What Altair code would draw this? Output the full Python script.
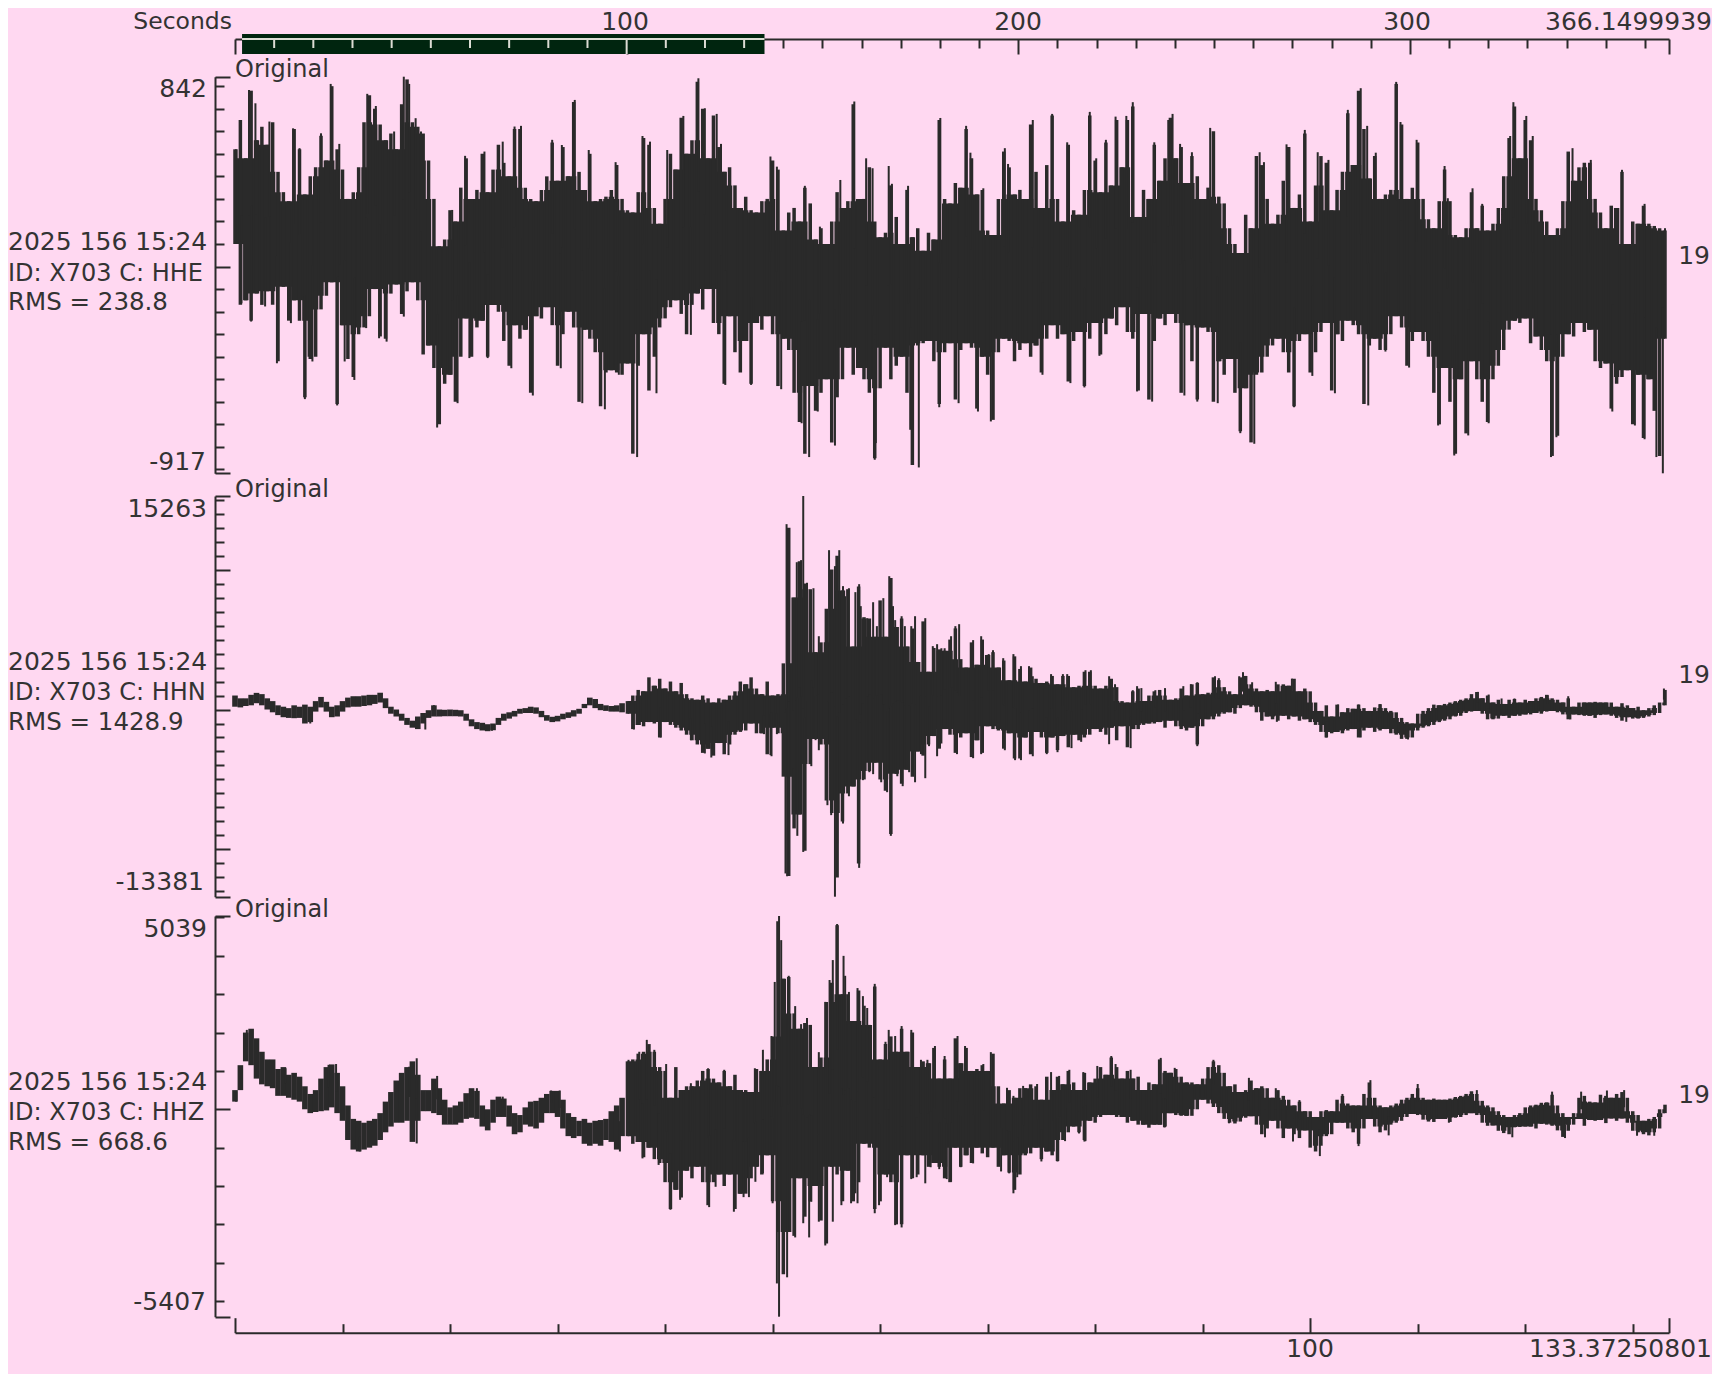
import altair as alt
import numpy as np
import pandas as pd

# ---------- waveform columns: {seconds: counts} ----------
p1_hi = {0:520,.5:650,1:480,1.5:780,2:560,2.5:620,3:540,3.5:640,4:420,4.5:330,5:290,5.5:610,6:520,6.5:320,7:400,7.5:440,8:580,8.5:470,9:800,9.5:520,10:430,10.5:300,11:330,11.5:440,12:640,12.5:760,13:700,13.5:630,14:560,14.5:590,15:520,15.5:720,16:830,16.5:640,17:620,17.5:590,18:470,18.5:300,19:90,19.5:120,20:250,20.5:200,21:350,21.5:480,22:300,22.5:340,23:500,23.5:330,24:430,24.5:540,25:460,25.5:400,26:610,26.5:610,27:350,27.5:300,28:290,28.5:340,29:400,29.5:550,30:380,30.5:530,31:400,31.5:730,32:420,32.5:340,33:500,33.5:290,34:300,34.5:310,35:340,35.5:450,36:300,36.5:250,37:240,37.5:330,38:570,38.5:540,39:260,39.5:190,40:300,40.5:500,41:430,41.5:660,42:500,42.5:560,43:820,43.5:700,44:480,44.5:670,45:530,45.5:420,46:440,46.5:360,47:260,47.5:310,48:250,48.5:240,49:290,49.5:300,50:470,50.5:430,51:160,51.5:240,52:260,52.5:200,53:350,53.5:280,54:120,54.5:170,55:100,55.5:200,56:330,56.5:260,57:290,57.5:720,58:300,
         58.5:300,59:440,59.5:200,60:130,60.5:150,61:360,61.5:220,62:100,62.5:340,63:130,63.5:170,64:70,64.5:150,65:120,65.5:650,66:300,66.5:280,67:370,67.5:350,68:610,68.5:480,69:320,69.5:340,70:160,70.5:140,71:300,71.5:510,72:440,72.5:320,73:340,73.5:300,74:630,74.5:420,75:260,75.5:450,76:670,76.5:300,77:200,77.5:540,78:250,78.5:230,79:340,79.5:670,80:470,80.5:330,81:550,81.5:360,82:650,82.5:440,83:650,83.5:710,84:220,84.5:340,85:300,85.5:540,86:380,86.5:480,87:660,87.5:480,88:530,88.5:370,89:490,89.5:400,90:300,90.5:350,91:600,91.5:310,92:280,92.5:170,93:100,93.5:60,94:230,94.5:170,95:490,95.5:450,96:300,96.5:190,97:230,97.5:380,98:530,98.5:260,99:320,99.5:590,100:200,100.5:360,101:490,101.5:460,102:250,102.5:340,103:420,103.5:680,104:450,104.5:780,105:610,105.5:390,106:490,106.5:300,107:320,107.5:340,108:810,108.5:630,109:300,109.5:350,110:550,110.5:300,111:210,111.5:170,112:290,112.5:430,113:290,113.5:140,114:130,114.5:170,115:330,115.5:170,116:270,116.5:160,117:190,117.5:260,118:400,118.5:570,119:710,119.5:480,120:650,120.5:560,121:300,121.5:250,122:200,122.5:140,123:170,123.5:290,124:510,124.5:380,125:440,125.5:460,126:460,126.5:300,127:240,127.5:170,128:270,128.5:260,129:420,129.5:100,130:200,130.5:190,131:270,131.5:190,132:180,132.5:170,133:160}
p1_lo = {0:100,.5:-170,1:-150,1.5:-240,2:-120,2.5:-170,3:-110,3.5:-170,4:-420,4.5:-90,5:-240,5.5:-150,6:-240,6.5:-580,7:-410,7.5:-400,8:-190,8.5:-130,9:-70,9.5:-610,10:-260,10.5:-410,11:-490,11.5:-300,12:-270,12.5:-220,13:-100,13.5:-310,14:-320,14.5:-120,15:-80,15.5:-210,16:-110,16.5:-70,17:-150,17.5:-390,18:-350,18.5:-450,19:-700,19.5:-520,20:-480,20.5:-600,21:-400,21.5:-230,22:-400,22.5:-270,23:-240,23.5:-400,24:-170,24.5:-200,25:-330,25.5:-440,26:-260,26.5:-320,27:-280,27.5:-560,28:-220,28.5:-230,29:-180,29.5:-260,30:-440,30.5:-300,31:-200,31.5:-270,32:-600,32.5:-280,33:-320,33.5:-380,34:-620,34.5:-470,35:-460,35.5:-470,36:-480,36.5:-430,37:-830,37.5:-440,38:-300,38.5:-550,39:-400,39.5:-270,40:-230,40.5:-180,41:-150,41.5:-210,42:-300,42.5:-170,43:-120,43.5:-190,44:-100,44.5:-250,45:-300,45.5:-520,46:-220,46.5:-380,47:-470,47.5:-330,48:-520,48.5:-250,49:-280,49.5:-220,50:-300,50.5:-530,51:-320,51.5:-370,52:-560,52.5:-690,53:-830,53.5:-530,54:-640,54.5:-560,55:-500,55.5:-780,56:-580,56.5:-500,57:-360,57.5:-480,58:-450,
         58.5:-500,59:-560,59.5:-850,60:-540,60.5:-360,61:-500,61.5:-440,62:-400,62.5:-560,63:-880,63.5:-350,64:-340,64.5:-330,65:-420,65.5:-610,66:-380,66.5:-340,67:-590,67.5:-370,68:-340,68.5:-360,69:-630,69.5:-400,70:-480,70.5:-680,71:-380,71.5:-320,72:-330,72.5:-420,73:-370,73.5:-340,74:-400,74.5:-350,75:-470,75.5:-320,76:-260,76.5:-320,77:-300,77.5:-510,78:-330,78.5:-290,79:-530,79.5:-320,80:-250,80.5:-390,81:-300,81.5:-230,82:-260,82.5:-180,83:-290,83.5:-320,84:-550,84.5:-210,85:-590,85.5:-330,86:-230,86.5:-260,87:-210,87.5:-250,88:-560,88.5:-260,89:-420,89.5:-590,90:-270,90.5:-290,91:-600,91.5:-420,92:-480,92.5:-410,93:-560,93.5:-730,94:-540,94.5:-780,95:-480,95.5:-470,96:-400,96.5:-350,97:-320,97.5:-380,98:-470,98.5:-620,99:-330,99.5:-300,100:-470,100.5:-380,101:-290,101.5:-250,102:-550,102.5:-300,103:-330,103.5:-240,104:-260,104.5:-300,105:-610,105.5:-350,106:-320,106.5:-370,107:-370,107.5:-300,108:-220,108.5:-270,109:-440,109.5:-330,110:-290,110.5:-330,111:-400,111.5:-560,112:-700,112.5:-450,113:-600,113.5:-830,114:-500,114.5:-740,115:-420,115.5:-500,116:-600,116.5:-690,117:-500,117.5:-440,118:-370,118.5:-280,119:-240,119.5:-250,120:-230,120.5:-340,121:-310,121.5:-370,122:-420,122.5:-840,123:-750,123.5:-400,124:-300,124.5:-310,125:-250,125.5:-290,126:-280,126.5:-420,127:-450,127.5:-430,128:-630,128.5:-520,129:-490,129.5:-460,130:-700,130.5:-480,131:-760,131.5:-500,132:-640,132.5:-840,133:-320}
p2_hi = {36.5:600,37:1000,37.5:1400,38:1300,38.5:2300,39:1700,39.5:2200,40:1500,40.5:2000,41:1300,41.5:1900,42:1100,42.5:800,43:700,43.5:1000,44:800,44.5:500,45:800,45.5:700,46:1000,46.5:1300,47:2000,47.5:1800,48:2300,48.5:1500,49:1100,49.5:2000,50:1000,50.5:1100,
         51:3300,51.5:13000,52:8000,52.5:10600,53:9000,53.5:8600,54:4100,54.5:4800,55:7200,55.5:10000,56:11000,56.5:8500,57:8600,57.5:4500,58:8800,58.5:6600,59:6500,59.5:5200,60:7800,60.5:5200,61:9400,61.5:5900,62:6500,62.5:4500,63:5800,63.5:3400,64:6300,64.5:2700,65:4400,65.5:4300,66:4200,66.5:5000,67:5800,67.5:3600,68:3000,68.5:4800,69:3200,69.5:5000,70:3900,70.5:4100,71:3000,71.5:3500,72:2100,72.5:3800,73:2900,73.5:2000,74:3000,74.5:2200,75:1900,75.5:2000,76:2400,76.5:1800,77:2400,77.5:2400,78:1600,78.5:1700,79:2700,79.5:2700,80:1700,80.5:1500,81:1700,81.5:2200,82:1600,82.5:600,83:500,83.5:1300,84:1500,84.5:600,85:1000,85.5:1300,86:1400,86.5:1000,87:700,87.5:800,88:1500,88.5:1000,89:1800,89.5:1900,90:1100,90.5:1200,91:2300,91.5:2100,92:1600,92.5:1300,93:1100,93.5:2300,94:2400,94.5:1800,95:1500,95.5:1300,96:1400,96.5:1300,97:1800,
         97.5:1800,98:1700,98.5:2200,99:1300,99.5:1500,100:1300,100.5:500,101:-100,101.5:300,102:-500,102.5:350,103:-200,103.5:100,104:50,104.5:350,105:100,105.5:-100,106:150,106.5:380,107:100,107.5:-100,108:-200,108.5:-600,109:-900,109.5:-1000,110:-300,110.5:-100,111:100,111.5:350,112:300,112.5:400,113:500,113.5:600,114:700,114.5:800,115:1100,115.5:1250,116:800,116.5:1000,117:500,117.5:700,118:400,118.5:700,119:750,119.5:500,120:700,120.5:600,121:800,121.5:900,122:1050,122.5:800,123:700,123.5:500,124:800,124.5:200,125:500,125.5:500,126:500,126.5:550,127:500,127.5:500,128:500,128.5:200,129:450,129.5:300,130:100,130.5:200,131:-50,131.5:100,132:300,132.5:500,133:1400}
p2_lo = {36.5:-300,37:-1400,37.5:-1100,38:-1200,38.5:-900,39:-1000,39.5:-2000,40:-900,40.5:-1100,41:-1300,41.5:-1500,42:-1800,42.5:-2200,43:-2500,43.5:-3100,44:-2800,44.5:-3300,45:-2400,45.5:-3200,46:-2500,46.5:-1800,47:-1600,47.5:-1500,48:-1000,48.5:-1700,49:-1700,49.5:-3200,50:-1300,50.5:-1700,
         51:-4800,51.5:-11900,52:-8500,52.5:-7500,53:-10100,53.5:-3900,54:-2100,54.5:-2500,55:-6500,55.5:-7400,56:-12000,56.5:-8000,57:-6000,57.5:-5500,58:-11000,58.5:-5000,59:-4400,59.5:-3800,60:-5000,60.5:-5800,61:-8900,61.5:-4600,62:-5300,62.5:-4300,63:-4800,63.5:-3000,64:-3300,64.5:-2500,65:-1900,65.5:-2800,66:-1400,66.5:-1800,67:-3100,67.5:-2000,68:-1700,68.5:-3400,69:-2200,69.5:-3100,70:-1200,70.5:-1400,71:-1500,71.5:-2800,72:-1700,72.5:-3500,73:-3500,73.5:-2000,74:-3200,74.5:-1600,75:-2000,75.5:-3100,76:-2000,76.5:-2900,77:-1900,77.5:-2700,78:-1800,78.5:-2200,79:-2000,79.5:-1800,80:-1400,80.5:-1600,81:-1800,81.5:-1300,82:-2200,82.5:-1200,83:-2700,83.5:-1400,84:-1400,84.5:-1100,85:-1000,85.5:-1000,86:-900,86.5:-1300,87:-800,87.5:-1200,88:-1400,88.5:-1500,89:-1300,89.5:-2500,90:-1200,90.5:-700,91:-700,91.5:-500,92:-300,92.5:-200,93:-300,93.5:100,94:300,94.5:200,95:-200,95.5:-800,96:-500,96.5:-700,97:-800,
         97.5:-450,98:-700,98.5:-500,99:-800,99.5:-700,100:-900,100.5:-1100,101:-1600,101.5:-2000,102:-1700,102.5:-1600,103:-1700,103.5:-1500,104:-1400,104.5:-2000,105:-1500,105.5:-1300,106:-1600,106.5:-1500,107:-1400,107.5:-1700,108:-1800,108.5:-2100,109:-2100,109.5:-2000,110:-1500,110.5:-1300,111:-1200,111.5:-1100,112:-900,112.5:-800,113:-700,113.5:-500,114:-450,114.5:-250,115:-150,115.5:-100,116:-300,116.5:-700,117:-700,117.5:-650,118:-450,118.5:-600,119:-450,119.5:-450,120:-350,120.5:-350,121:-250,121.5:-300,122:-150,122.5:-100,123:-200,123.5:-350,124:-700,124.5:-350,125:-400,125.5:-450,126:-450,126.5:-600,127:-400,127.5:-350,128:-450,128.5:-600,129:-800,129.5:-550,130:-650,130.5:-650,131:-600,131.5:-500,132:-400,132.5:-250,133:300}
p3_hi = {36.5:1250,37:1300,37.5:1450,38:1500,38.5:1700,39:1500,39.5:1100,40:1000,40.5:300,41:1100,41.5:500,42:600,42.5:600,43:750,43.5:1000,44:1050,44.5:800,45:700,45.5:1000,46:600,46.5:900,47:500,
         47.5:500,48:450,48.5:1050,49:1000,49.5:1300,50:1900,50.5:4900,51:3400,51.5:3450,52:2500,52.5:2100,53:2250,53.5:2200,54:1100,54.5:1350,55:2800,55.5:3300,56:4800,56.5:3000,57:3000,57.5:2300,58:3100,58.5:2700,59:2200,59.5:3200,60:1300,60.5:1700,61:1900,61.5:1500,62:2100,62.5:1500,63:2000,63.5:1100,64:1250,64.5:1200,65:1600,65.5:800,66:1300,66.5:800,67:1850,67.5:1200,68:1600,68.5:1000,69:1050,69.5:1150,70:1000,70.5:1450,71:600,71.5:150,72:500,72.5:300,73:550,73.5:550,74:650,74.5:600,75:250,75.5:850,76:500,76.5:850,77:650,77.5:1000,78:700,78.5:500,79:950,79.5:700,80:800,80.5:1100,81:900,81.5:1350,82:1100,82.5:800,83:1000,83.5:800,84:850,84.5:500,85:700,85.5:650,86:1300,86.5:1000,87:950,87.5:1050,88:850,88.5:700,89:700,89.5:650,90:800,90.5:1100,91:1250,91.5:1150,92:950,92.5:600,93:650,93.5:450,94:500,94.5:750,95:550,
         95.5:600,96:550,96.5:300,97:500,97.5:350,98:250,98.5:100,99:200,99.5:-50,100:-50,100.5:-200,101:-50,101.5:-20,102:-50,102.5:250,103:350,103.5:150,104:100,104.5:100,105:400,105.5:700,106:300,106.5:100,107:50,107.5:100,108:150,108.5:250,109:300,109.5:400,110:550,110.5:300,111:250,111.5:280,112:250,112.5:250,113:280,113.5:320,114:350,114.5:400,115:470,115.5:400,116:220,116.5:100,117:50,117.5:-50,118:-150,118.5:-200,119:-150,119.5:-100,120:50,120.5:100,121:120,121.5:170,122:180,122.5:380,123:100,123.5:-100,124:-200,124.5:-100,125:300,125.5:350,126:200,126.5:180,127:380,127.5:350,128:300,128.5:400,129:450,129.5:300,130:-50,130.5:-150,131:-300,131.5:-250,132:-200,132.5:0,133:120}
p3_lo = {36.5:-700,37:-900,37.5:-850,38:-1250,38.5:-1000,39:-1300,39.5:-1400,40:-1900,40.5:-2600,41:-2100,41.5:-2300,42:-1600,42.5:-1800,43:-1500,43.5:-1900,44:-2500,44.5:-1900,45:-1700,45.5:-2000,46:-1700,46.5:-2600,47:-2200,
         47.5:-2200,48:-1800,48.5:-1500,49:-1700,49.5:-1200,50:-2400,50.5:-3200,51:-4300,51.5:-3200,52:-3300,52.5:-1800,53:-2800,53.5:-2400,54:-2000,54.5:-2900,55:-3500,55.5:-1500,56:-1700,56.5:-2400,57:-1600,57.5:-2400,58:-1900,58.5:-900,59:-1000,59.5:-2600,60:-2400,60.5:-1700,61:-1900,61.5:-3000,62:-3000,62.5:-1200,63:-1800,63.5:-1700,64:-1200,64.5:-1500,65:-1400,65.5:-1500,66:-1800,66.5:-1900,67:-1000,67.5:-1500,68:-1200,68.5:-1400,69:-1000,69.5:-1150,70:-1250,70.5:-1000,71:-1500,71.5:-1200,72:-1650,72.5:-2100,73:-1700,73.5:-1200,74:-1150,74.5:-1000,75:-1300,75.5:-1100,76:-1200,76.5:-1350,77:-800,77.5:-600,78:-450,78.5:-600,79:-800,79.5:-300,80:-350,80.5:-200,81:-150,81.5:-150,82:-200,82.5:-200,83:-350,83.5:-300,84:-400,84.5:-400,85:-480,85.5:-400,86:-400,86.5:-450,87:-100,87.5:-150,88:-170,88.5:-170,89:-170,89.5:0,90:250,90.5:150,91:60,91.5:-100,92:-250,92.5:-350,93:-370,93.5:-320,94:-220,94.5:-180,95:-400,
         95.5:-650,96:-500,96.5:-300,97:-500,97.5:-750,98:-500,98.5:-650,99:-750,99.5:-550,100:-1000,100.5:-1100,101:-950,101.5:-700,102:-650,102.5:-350,103:-350,103.5:-500,104:-600,104.5:-900,105:-500,105.5:-250,106:-450,106.5:-600,107:-550,107.5:-400,108:-350,108.5:-300,109:-200,109.5:-120,110:-150,110.5:-270,111:-320,111.5:-330,112:-250,112.5:-250,113:-330,113.5:-220,114:-200,114.5:-150,115:-100,115.5:-150,116:-350,116.5:-430,117:-420,117.5:-560,118:-620,118.5:-650,119:-470,119.5:-460,120:-450,120.5:-450,121:-500,121.5:-380,122:-400,122.5:-430,123:-550,123.5:-720,124:-560,124.5:-400,125:-250,125.5:-430,126:-280,126.5:-300,127:-280,127.5:-360,128:-240,128.5:-300,129:-240,129.5:-350,130:-560,130.5:-600,131:-650,131.5:-680,132:-600,132.5:-500,133:-100}

# quiet first part of panels 2 and 3: a thick wandering band
p2_q_hi = {0:1000,.5:800,1:800,1.5:1050,2:1190,2.5:1100,3:800,3.5:600,4:300,4.5:200,5:100,5.5:300,6:200,6.5:350,7:200,7.5:600,8:900,8.5:550,9:200,9.5:300,10:600,10.5:850,11:950,11.5:950,12:1000,12.5:1050,13:1050,13.5:1200,14:800,14.5:200,15:0,15.5:-300,16:-600,16.5:-800,17:-500,17.5:-250,18:-50,18.5:300,19:0,19.5:-20,20:0,20.5:-20,21:-50,21.5:-300,22:-700,22.5:-900,23:-950,23.5:-1050,24:-1000,24.5:-600,25:-300,25.5:-200,26:-100,26.5:50,27:100,27.5:200,28:150,28.5:-100,29:-400,29.5:-520,30:-450,30.5:-300,31:-200,31.5:-50,32:50,32.5:400,33:850,33.5:750,34:400,34.5:300,35:250,35.5:300,36:450}
p2_q_lo = {0:200,.5:150,1:250,1.5:300,2:450,2.5:300,3:0,3.5:-200,4:-400,4.5:-550,5:-600,5.5:-620,6:-600,6.5:-1000,7:-900,7.5:-150,8:150,8.5:-150,9:-550,9.5:-500,10:-150,10.5:150,11:200,11.5:200,12:250,12.5:300,13:400,13.5:500,14:100,14.5:-300,15:-500,15.5:-800,16:-1100,16.5:-1300,17:-1400,17.5:-1000,18:-600,18.5:-500,19:-500,19.5:-480,20:-480,20.5:-480,21:-500,21.5:-800,22:-1200,22.5:-1400,23:-1500,23.5:-1550,24:-1480,24.5:-1100,25:-800,25.5:-650,26:-500,26.5:-300,27:-250,27.5:-250,28:-300,28.5:-550,29:-800,29.5:-900,30:-850,30.5:-700,31:-600,31.5:-500,32:-300,32.5:100,33:300,33.5:100,34:-50,34.5:-100,35:-150,35.5:-150,36:-200}
p3_q_hi = {0:500,.5:1150,1:2000,1.5:2100,2:1850,2.5:1500,3:1300,3.5:1300,4:1050,4.5:1100,5:900,5.5:950,6:850,6.5:600,7:400,7.5:500,8:800,8.5:1100,9:1170,9.5:950,10:600,10.5:100,11:-250,11.5:-300,12:-350,12.5:-300,13:-250,13.5:-100,14:200,14.5:450,15:750,15.5:950,16:1100,16.5:1250,17:900,17.5:500,18:500,18.5:800,19:550,19.5:250,20:50,20.5:100,21:200,21.5:420,22:550,22.5:480,23:100,23.5:0,24:250,24.5:330,25:280,25.5:100,26:-100,26.5:-150,27:50,27.5:200,28:220,28.5:300,29:400,29.5:480,30:480,30.5:250,31:-100,31.5:-200,32:-300,32.5:-250,33:-350,33.5:-300,34:-280,34.5:-250,35:-50,35.5:100,36:300}
p3_q_lo = {0:200,.5:500,1:1250,1.5:1150,2:800,2.5:650,3:600,3.5:550,4:350,4.5:350,5:300,5.5:250,6:200,6.5:0,7:-100,7.5:-70,8:-50,8.5:-30,9:50,9.5:-100,10:-300,10.5:-800,11:-1050,11.5:-1100,12:-1050,12.5:-1000,13:-950,13.5:-800,14:-600,14.5:-450,15:-350,15.5:-350,16:-300,16.5:-850,17:-300,17.5:-50,18:-50,18.5:-100,19:-150,19.5:-400,20:-400,20.5:-400,21:-350,21.5:-250,22:-220,22.5:-250,23:-450,23.5:-550,24:-350,24.5:-200,25:-200,25.5:-450,26:-650,26.5:-600,27:-400,27.5:-450,28:-500,28.5:-350,29:-100,29.5:-100,30:-200,30.5:-500,31:-700,31.5:-750,32:-700,32.5:-900,33:-950,33.5:-900,34:-950,34.5:-800,35:-850,35.5:-1050,36:-700}

# single tall strokes
p1_up_t = [1.3,1.9,3.2,5.4,6,8,8.9,9.7,12.3,13.1,14.8,15.7,16.2,16.8,17.3,20.2,21.4,23.2,24.9,26,26.6,29.5,30.4,31.6,32.9,35.4,37.9,38.6,40.2,41.7,43.1,43.7,44.8,45.2,49.8,50.4,53,54.4,56.3,57.6,
           58.7,59.3,60.8,61.1,62.6,65.6,68,68.4,69.6,71.6,71.9,74.2,76,77.4,79.5,80.1,81,81.9,82.9,83.5,85.5,86.8,87.2,87.9,89,90.7,95.3,95.7,97.8,99.5,100.7,101.7,103.5,104.7,105.3,106.1,108,108.4,109.9,112.5,112.8,115.1,116,118.6,118.9,120.1,120.7,124.4,126.1,129,131.1,133]
p1_up = [783,724,643,613,525,591,810,544,766,712,599,842,810,658,599,251,491,510,554,621,624,562,539,739,517,463,579,554,517,668,835,702,677,544,488,443,358,177,384,732,
         480,436,446,367,358,659,624,505,347,525,455,650,677,551,686,480,562,665,668,729,551,650,677,544,507,615,507,463,542,606,507,473,695,791,624,505,819,641,562,446,303,347,278,579,729,668,579,525,473,429,278,170]
p1_dn_t = [.6,1.5,2.8,3.9,5.2,6.5,7.2,9.5,10.2,11.1,12.2,13.4,14.1,15.7,18.8,20.7,21.8,23.5,25.7,27.7,30.3,32.3,34.4,35.7,37.4,39.2,42.4,45.6,48,50.8,52.7,53.4,54.2,55.8,
           59.5,59.6,62.8,63.6,65.5,67.3,69.1,70.3,75.1,77.7,79,80.4,83.9,85.3,88.3,89.5,91.4,93.5,94.8,98.5,100.2,102.3,105.4,107,109.2,111.9,113.4,114.7,116.6,122.4,122.9,128.1,130.2,131.1,132.2,132.8]
p1_dn = [-163,-244,-177,-429,-251,-588,-421,-616,-421,-503,-273,-318,-333,-222,-714,-606,-406,-406,-451,-572,-451,-606,-633,-480,-845,-562,-303,-525,-525,-544,-695,-845,-643,-794,
         -857,-783,-724,-891,-624,-606,-643,-687,-480,-517,-536,-396,-554,-599,-572,-599,-606,-739,-786,-624,-485,-562,-616,-377,-448,-705,-838,-749,-695,-845,-757,-643,-705,-766,-845,-917]
p2_up_t = [18.5,51.3,51.5,52.25,52.65,52.85,53.2,53.8,54.3,55.25,55.45,55.8,56.2,56.55,56.75,57.1,57.7,58.05,58.2,58.8,59.35,59.7,60.3,60.85,61.2,61.4,62,62.3,62.9,63.25,64.2,64.9,65.3,65.7,66,66.6,67,67.35,68.65,69.4,70.1,70.5,71.45,72.4,73.1,73.85,74.2,75.9,77,77.4,79.1,79.6,81.3,81.85,83.5,83.9,84.3,85.6,86.5,88.2,88.9,89.5,91.15,91.5,93.4,93.75,94.6,
           96.8,98.3,102.6,104.5,106.5,115.6,116.6,117.8,119,122.1,124,132.9]
p2_up = [310,13250,12820,10530,10680,15263,9060,8670,5240,11390,9960,10250,11390,8820,8100,8670,8390,8960,7390,6530,7670,5960,7960,9530,7390,6390,6670,5960,5960,6670,6530,4530,4670,4380,4380,5240,5960,6100,4960,5240,3960,4240,3670,3960,3100,3100,2380,2530,2530,2530,2810,2810,2380,1810,1380,1670,1530,1380,1530,1670,1810,1950,2380,2240,2380,2670,1950,
         1980,2210,360,360,380,1260,1070,790,790,1020,950,1500]
p2_dn_t = [7,17.7,23.9,37.1,39.6,42.4,43.7,44.3,45.9,49.2,49.8,49.9,50.4,51.2,51.35,51.5,51.9,52.3,52.5,52.85,53,53.6,54,54.3,55.1,55.45,55.8,56,56.55,57.1,58.05,58.4,59,59.35,60.1,60.65,61,61.6,62.1,62.7,63.25,63.8,64.2,64.55,65.3,65.7,67.15,68.65,69.4,71.6,72.55,73.1,74.2,75.5,76.5,77.8,78.7,81.3,83.3,89.5,
           96.9,101.5,104.7,109.1,124.2,129.4]
p2_dn = [-1000,-1430,-1520,-1430,-2000,-2190,-3140,-3430,-3260,-1760,-3260,-3340,-1760,-11720,-11920,-8750,-4220,-9030,-7200,-10180,-7430,-4050,-2190,-2910,-6840,-7550,-13381,-9580,-8150,-6200,-11320,-5050,-4480,-4620,-5200,-5910,-9030,-4770,-5480,-4480,-5200,-3190,-4910,-2620,-3340,-2430,-3190,-3480,-3190,-2910,-3620,-3620,-3340,-3190,-3050,-2760,-2310,-2480,-2760,-2620,
         -880,-2000,-2000,-2140,-710,-880]
p3_up_t = [1.1,4.7,8.7,9.4,16.2,16.9,18.8,22.5,24.9,29.4,30.2,36.6,37.6,38.3,39,40.1,42.4,44,45.5,46.5,47.45,48.35,49.1,49.9,50.2,50.6,50.8,51.5,52.1,52.65,53.2,54.3,54.9,55.3,55.6,56,56.6,56.75,57.1,57.9,58.4,58.8,59.5,60.5,60.8,61.4,62,62.9,63.8,64.4,65.1,66,67.2,67.9,69.6,70.3,71.8,72.4,73.3,74.6,75.9,76.65,77.6,78.9,80.2,81.5,81.9,83.3,86.1,87.4,91,94.3,
           96.8,99,103,105.6,110,115.5,122.5,125.2,127.6,129.2]
p3_up = [2070,1070,1160,1180,1110,1330,870,550,330,490,490,1290,1500,1810,1550,1180,680,1070,1030,890,500,1070,1550,1910,3320,5039,4410,3480,2690,2220,2380,1490,2800,3370,3890,4830,4000,3480,3060,3160,2950,2640,3270,1760,2070,1910,2170,2070,1290,1290,1650,1390,1910,1650,1180,1490,560,350,610,660,970,870,1030,970,1130,1390,1180,1030,1340,1080,1290,820,
         550,240,400,760,660,500,460,460,490,500]
p3_dn_t = [.1,11.6,16.9,35.8,37.9,39.4,40.5,41.4,44.1,44.7,46.4,47.3,47.8,48.4,49.1,50,50.4,50.6,51.35,52.1,52.85,53.4,53.6,54.3,54.9,55.6,56.4,57.3,57.7,57.9,59.5,59.9,60.65,61.4,62,62.9,63.4,64.2,64.7,65.5,66.2,66.6,67.5,68.65,71.25,72,72.4,72.75,75,76.5,77.2,78.5,79,79.1,86.4,86.5,92.45,
           95.8,98.4,100.9,104.5,107.3,112.9,118.8,123.7,130.4,132]
p3_dn = [200,-1100,-890,-1100,-1280,-1450,-2620,-2360,-2550,-2020,-2670,-2290,-2290,-1890,-1670,-2450,-4540,-5407,-4380,-3340,-2970,-3340,-2410,-2930,-3550,-2930,-2500,-2450,-2190,-2450,-2710,-2500,-1770,-3020,-3080,-1820,-1770,-1930,-1510,-1560,-1820,-1890,-1510,-1410,-1620,-1670,-2190,-1770,-1360,-1360,-830,-630,-840,-830,-470,-470,-365,
         -730,-840,-1220,-960,-680,-350,-730,-750,-690,-690]

# ---------- axis values ----------
top_minor = [v for v in range(10, 361, 10) if v % 100]
top_major = [0, 100, 200, 300, 366.1499939]
bot_minor = [v for v in range(10, 131, 10) if v != 100]
bot_major = [0, 100, 133.37250801]
sel_start, sel_end = 1.8, 135.2
y1_dom, y2_dom, y3_dom = [-917, 842], [-13381, 15263], [-5407, 5039]
y1_minor = [v for v in range(-900, 801, 100) if v != 0]
y1_major = [-917, 0, 842]
y2_minor = [v for v in range(-13000, 15001, 1000) if v % 10000 != 0]
y2_major = [-13381, -10000, 0, 10000, 15263]
y3_minor = [v for v in range(-5000, 5001, 1000) if v != 0]
y3_major = [-5407, 0, 5039]

W, H = 1704, 1366
INK, PINK, GREEN, PALE = "#2a2a2a", "#ffd8f1", "#00250f", "#dcdcd4"
FONT = "DejaVu Sans"
x_sel = alt.Scale(domain=[0, 133.37250801], range=[227, 1661], nice=False, zero=False)
x_all = alt.Scale(domain=[0, 366.1499939], range=[227, 1661], nice=False, zero=False)


def y_axis(values, size, domain):
    return alt.Axis(orient="right", offset=207 - W, values=values, tickSize=size, tickWidth=2,
                    tickColor=INK, domain=domain, domainColor=INK, domainWidth=2,
                    labels=False, grid=False, title=None)


def x_axis(orient, offset, values, size, domain):
    return alt.Axis(orient=orient, offset=offset, values=values, tickSize=size, tickWidth=2,
                    tickColor=INK, domain=domain, domainColor=INK, domainWidth=2,
                    labels=False, grid=False, title=None)


def panel(hi, lo, up_t, up, dn_t, dn, dom, rng, minor, major, q_hi=None, q_lo=None, xa_minor=None, xa_major=None):
    ys = alt.Scale(domain=dom, range=rng, nice=False, zero=False)
    cols = pd.DataFrame({"t": list(hi.keys()), "hi": list(hi.values()), "lo": [lo[k] for k in hi]})
    # solid body: what every neighbouring column shares
    cols["body_hi"] = cols["hi"].rolling(3, center=True, min_periods=1).min()
    cols["body_lo"] = cols["lo"].rolling(3, center=True, min_periods=1).max()
    t_mid, mid = cols["t"].to_numpy(float), ((cols["hi"] + cols["lo"]) / 2).to_numpy(float)
    out = []
    if q_hi is not None:
        qd = pd.DataFrame({"t": list(q_hi.keys()), "hi": list(q_hi.values()), "lo": [q_lo[k] for k in q_hi]})
        out.append(alt.Chart(qd).mark_rule(color=INK, strokeWidth=5.6).encode(
            x=alt.X("t:Q", scale=x_sel, axis=None),
            y=alt.Y("hi:Q", scale=ys, axis=None), y2="lo:Q"))
        t_mid = np.r_[qd["t"].to_numpy(float), t_mid]
        mid = np.r_[((qd["hi"] + qd["lo"]) / 2).to_numpy(float), mid]
    out.append(alt.Chart(cols).mark_area(color=INK, interpolate="step").encode(
        x=alt.X("t:Q", scale=x_sel, axis=xa_minor),
        y=alt.Y("body_hi:Q", scale=ys, axis=y_axis(minor, 9, True)),
        y2="body_lo:Q"))
    out.append(alt.Chart(cols).mark_rule(color=INK, strokeWidth=3.5).encode(
        x=alt.X("t:Q", scale=x_sel, axis=None),
        y=alt.Y("hi:Q", scale=ys, axis=None), y2="lo:Q"))
    ups = pd.DataFrame({"t": up_t, "v": up})
    ups["root"] = np.interp(ups["t"], t_mid, mid)
    dns = pd.DataFrame({"t": dn_t, "v": dn})
    dns["root"] = np.interp(dns["t"], t_mid, mid)
    out.append(alt.Chart(ups).mark_rule(color=INK, strokeWidth=2).encode(
        x=alt.X("t:Q", scale=x_sel, axis=xa_major),
        y=alt.Y("v:Q", scale=ys, axis=y_axis(major, 15, False)), y2="root:Q"))
    out.append(alt.Chart(dns).mark_rule(color=INK, strokeWidth=2).encode(
        x=alt.X("t:Q", scale=x_sel, axis=None),
        y=alt.Y("v:Q", scale=ys, axis=None), y2="root:Q"))
    return out


def text(s, x, y, align="left", size=25):
    return alt.Chart(pd.DataFrame({"s": [s]})).mark_text(
        font=FONT, fontSize=size, color="#333333", align=align, baseline="middle").encode(
        x=alt.value(x), y=alt.value(y), text="s:N")


layers = []
layers += panel(p1_hi, p1_lo, p1_up_t, p1_up, p1_dn_t, p1_dn, y1_dom, [465.3, 68.7], y1_minor, y1_major)
layers += panel(p2_hi, p2_lo, p2_up_t, p2_up, p2_dn_t, p2_dn, y2_dom, [888.7, 488], y2_minor, y2_major,
                q_hi=p2_q_hi, q_lo=p2_q_lo)
layers += panel(p3_hi, p3_lo, p3_up_t, p3_up, p3_dn_t, p3_dn, y3_dom, [1308.7, 908], y3_minor, y3_major,
                q_hi=p3_q_hi, q_lo=p3_q_lo,
                xa_minor=x_axis("top", -1324.7, bot_minor, 9, True),
                xa_major=x_axis("top", -1324.7, bot_major, 15, False))

# overview strip: selection box over the top axis
sel = alt.Chart(pd.DataFrame({"a": [sel_start], "b": [sel_end]}))
layers.append(sel.mark_rect(color=GREEN).encode(
    x=alt.X("a:Q", scale=x_all, axis=x_axis("bottom", 31 - H, top_minor, 9, True)),
    x2="b:Q", y=alt.value(26), y2=alt.value(46)))
layers.append(sel.mark_rule(color=PALE, strokeWidth=2).encode(
    x=alt.X("a:Q", scale=x_all, axis=x_axis("bottom", 31 - H, top_major, 15, False)),
    x2="b:Q", y=alt.value(31)))
pale = pd.DataFrame({"t": [v for v in top_minor if v < sel_end]})
layers.append(alt.Chart(pale).mark_rule(color=PALE, strokeWidth=2).encode(
    x=alt.X("t:Q", scale=x_all, axis=None), y=alt.value(31), y2=alt.value(40)))
layers.append(alt.Chart(pd.DataFrame({"t": [100]})).mark_rule(color=PALE, strokeWidth=2).encode(
    x=alt.X("t:Q", scale=x_all, axis=None), y=alt.value(31), y2=alt.value(46)))

labels = [
    ("Seconds", 224, 14, "right", 23.5), ("100", 617, 14, "center"), ("200", 1010, 14, "center"),
    ("300", 1399, 14, "center"), ("366.1499939", 1704, 14, "right"),
    ("Original", 227, 62, "left", 24), ("Original", 227, 482, "left", 24), ("Original", 227, 902, "left", 24),
    ("842", 199, 81, "right"), ("-917", 198, 454, "right"),
    ("15263", 199, 501, "right"), ("-13381", 196, 874, "right"),
    ("5039", 199, 921, "right"), ("-5407", 198, 1294, "right"),
    ("2025 156 15:24", 0, 234, "left"), ("ID: X703 C: HHE", 0, 266, "left", 24), ("RMS = 238.8", 0, 295, "left", 24.5),
    ("2025 156 15:24", 0, 654, "left"), ("ID: X703 C: HHN", 0, 685, "left", 24), ("RMS = 1428.9", 0, 715, "left", 24.5),
    ("2025 156 15:24", 0, 1074, "left"), ("ID: X703 C: HHZ", 0, 1105, "left", 24), ("RMS = 668.6", 0, 1135, "left", 24.5),
    ("19", 1702, 248, "right"), ("19", 1702, 667, "right"), ("19", 1702, 1087, "right"),
    ("100", 1302, 1341, "center"), ("133.37250801", 1704, 1341, "right"),
]
layers += [text(*l) for l in labels]

chart = alt.layer(*layers).resolve_scale(x="independent", y="independent").properties(
    width=W, height=H, padding=0, background=PINK,
    autosize=alt.AutoSizeParams(type="none", contains="padding"),
).configure_view(stroke=None)

chart.save("out.html", embed_options={"renderer": "svg", "actions": False})
